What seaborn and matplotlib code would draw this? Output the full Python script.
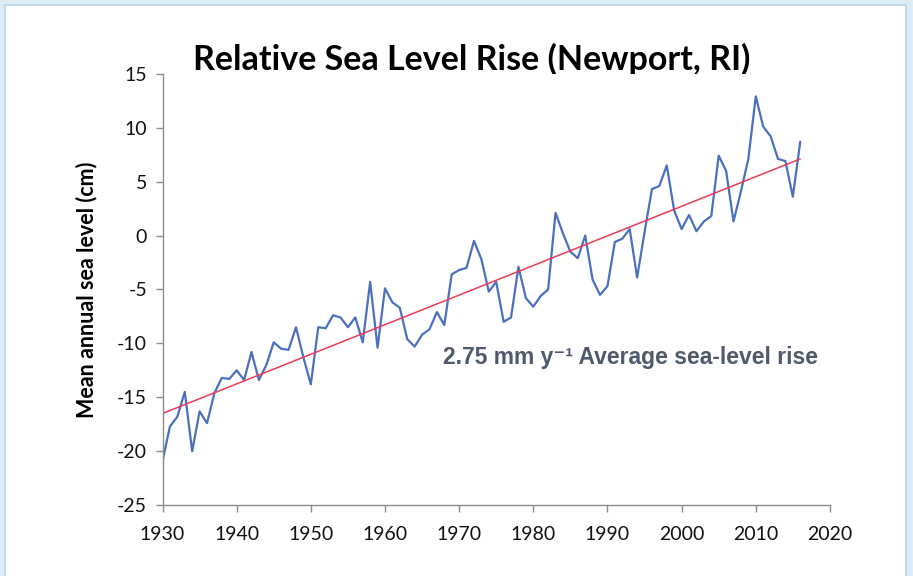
import numpy as np
import pandas as pd
import matplotlib.pyplot as plt
import seaborn as sns
from matplotlib.patches import Rectangle

# annual mean sea level, Newport RI (cm)
years = list(range(1930, 2017))
sea_level = [
    -20.9, -17.7, -16.8, -14.5, -20.0, -16.3, -17.4, -14.6, -13.2, -13.3,   # 1930s
    -12.5, -13.4, -10.8, -13.4, -12.0, -9.9, -10.5, -10.6, -8.5, -11.3,     # 1940s
    -13.8, -8.5, -8.6, -7.4, -7.6, -8.5, -7.6, -9.9, -4.3, -10.4,           # 1950s
    -4.9, -6.2, -6.7, -9.6, -10.3, -9.2, -8.7, -7.1, -8.3, -3.6,            # 1960s
    -3.2, -3.0, -0.5, -2.2, -5.2, -4.3, -8.0, -7.6, -2.9, -5.8,             # 1970s
    -6.6, -5.6, -5.0, 2.1, 0.2, -1.5, -2.1, 0.0, -4.1, -5.5,                # 1980s
    -4.7, -0.6, -0.3, 0.6, -3.9, 0.3, 4.3, 4.6, 6.5, 2.3,                   # 1990s
    0.6, 1.9, 0.4, 1.3, 1.8, 7.4, 6.0, 1.3, 4.1, 7.1,                       # 2000s
    12.9, 10.1, 9.2, 7.1, 6.9, 3.6, 8.7,                                    # 2010s
]

# linear trend (red line) end points
trend_years = [1930, 2016]
trend_vals = [-16.5, 7.1]

x_ticks = list(range(1930, 2021, 10))
y_ticks = list(range(-25, 16, 5))

df = pd.DataFrame({'year': years, 'level': sea_level})
trend = pd.DataFrame({'year': trend_years, 'level': trend_vals})

sns.set_theme(style='white')
plt.rcParams['font.family'] = ['Lato', 'DejaVu Sans']
plt.rcParams['axes.unicode_minus'] = False

fig = plt.figure(figsize=(9.13, 5.76), dpi=100)
fig.patch.set_facecolor('#dcedf5')
# white slide panel inside the light blue frame
fig.patches.append(Rectangle((5 / 913, -0.01), 901 / 913, 1 - 5 / 576 + 0.01,
                             transform=fig.transFigure, facecolor='white',
                             edgecolor='#b7d6e8', lw=1.2, zorder=-10))

ax = fig.add_axes([0.178, 0.123, 0.731, 0.749])
ax.set_zorder(5)
ax.set_facecolor('white')

sns.lineplot(data=df, x='year', y='level', ax=ax, color='#4a70bf', lw=1.6)
sns.lineplot(data=trend, x='year', y='level', ax=ax, color='#ee3b55', lw=1.1)

ax.set_xlim(1930, 2020)
ax.set_ylim(-25, 15)
ax.set_xticks(x_ticks)
ax.set_yticks(y_ticks)
ax.tick_params(axis='both', direction='out', length=5, width=1, color='#8c8c8c',
               labelsize=14, labelcolor='#111111')
ax.tick_params(axis='y', pad=6)
ax.tick_params(axis='x', pad=10)
ax.tick_params(left=True, bottom=True)

for side in ['top', 'right']:
    ax.spines[side].set_visible(False)
for side in ['left', 'bottom']:
    ax.spines[side].set_color('#8c8c8c')
    ax.spines[side].set_linewidth(1)

ax.set_xlabel('')
ax.set_ylabel('Mean annual sea level (cm)', fontsize=15.5, fontweight='bold', color='black')
ax.yaxis.set_label_coords(-0.098, 0.5)

ax.text(0.42, 0.343, '2.75 mm y\u207b\u00b9 Average sea-level rise',
        transform=ax.transAxes, ha='left', va='center', fontsize=16.5,
        fontweight='bold', color='#4f596c', family=['Liberation Sans', 'DejaVu Sans'])

fig.text(0.517, 0.896, 'Relative Sea Level Rise (Newport, RI)', ha='center', va='center',
         fontsize=24.5, fontweight='bold', color='black')

fig.savefig('out.png', dpi=100)
